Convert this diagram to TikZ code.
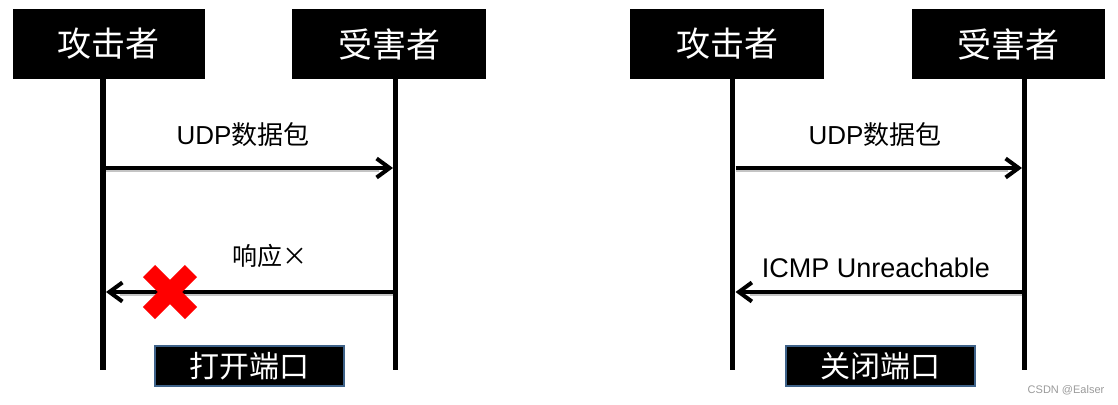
\documentclass[tikz,border=0pt]{standalone}
\usepackage{fontspec}
\setmainfont{Liberation Sans}
\newfontfamily\cjk{Noto Sans CJK SC}
\usetikzlibrary{arrows.meta}
\definecolor{borderblue}{HTML}{3E6289}
\definecolor{shadowgrey}{HTML}{C4C4C4}
\definecolor{wmgrey}{HTML}{9A9A9A}
\begin{document}
\begin{tikzpicture}[x=1pt,y=-1pt,
  head/.style={fill=black,text=white,minimum height=70pt,inner sep=0pt,font=\cjk\fontsize{34}{34}\selectfont},
  portbox/.style={fill=black,draw=borderblue,line width=2pt,text=white,minimum width=189pt,minimum height=40pt,inner sep=0pt,font=\cjk\fontsize{30}{30}\selectfont},
  life/.style={line width=5.5pt},
  msg/.style={line width=3.5pt,-{Straight Barb[length=13pt,width=19pt,line width=4pt]}},
  msgshadow/.style={line width=6pt,shadowgrey},
  lbl/.style={inner sep=0pt,font=\fontsize{26}{26}\selectfont},
  cross/.style={red,line width=17pt}
]
\useasboundingbox (0,0) rectangle (1118,404);

% ---------- left panel ----------
\node[head,minimum width=192pt] (hA1) at (108.7,44) {攻击者};
\node[head,minimum width=194pt] (hV1) at (389,44) {受害者};
\coordinate (tA1) at (103,79);  \coordinate (bA1) at (103,370);
\coordinate (tV1) at (395.5,79);\coordinate (bV1) at (395.5,370);
\draw[life] (tA1) -- (bA1);
\draw[life] (tV1) -- (bV1);

\coordinate (s1) at (106,168); \coordinate (e1) at (393,168);
\draw[msgshadow] ([yshift=-1pt]s1) -- ([yshift=-1pt,xshift=-14pt]e1);
\draw[msg] (s1) -- (e1);
\node[lbl] (l1) at (243,135) {UDP{\cjk 数据包}};

\coordinate (s2) at (393,292); \coordinate (e2) at (106,292);
\draw[msgshadow] ([yshift=-1pt]s2) -- ([yshift=-1pt,xshift=14pt]e2);
\draw[msg] (s2) -- (e2);
\node[lbl,font=\cjk\fontsize{25}{25}\selectfont] (l2) at (270,256) {响应×};
\coordinate (xc) at (170,292);
\draw[cross] ([shift={(-21,-21)}]xc) -- ([shift={(21,21)}]xc);
\draw[cross] ([shift={(-21,21)}]xc) -- ([shift={(21,-21)}]xc);

\node[portbox] (p1) at (249,366) {打开端口};

% ---------- right panel ----------
\node[head,minimum width=194pt] (hA2) at (727,44) {攻击者};
\node[head,minimum width=193pt] (hV2) at (1008.5,44) {受害者};
\coordinate (tA2) at (732.5,79);  \coordinate (bA2) at (732.5,370);
\coordinate (tV2) at (1024.5,79); \coordinate (bV2) at (1024.5,370);
\draw[life] (tA2) -- (bA2);
\draw[life] (tV2) -- (bV2);

\coordinate (s3) at (735.5,168); \coordinate (e3) at (1022,168);
\draw[msgshadow] ([yshift=-1pt]s3) -- ([yshift=-1pt,xshift=-14pt]e3);
\draw[msg] (s3) -- (e3);
\node[lbl] (l3) at (875,135) {UDP{\cjk 数据包}};

\coordinate (s4) at (1022,292); \coordinate (e4) at (735.5,292);
\draw[msgshadow] ([yshift=-1pt]s4) -- ([yshift=-1pt,xshift=14pt]e4);
\draw[msg] (s4) -- (e4);
\node[lbl,font=\fontsize{27}{27}\selectfont] (l4) at (876,268) {ICMP Unreachable};

\node[portbox] (p2) at (880,366) {关闭端口};

\node[inner sep=0pt,text=wmgrey,font=\fontsize{11}{11}\selectfont] (wm) at (1066,390) {CSDN @Ealser};
\end{tikzpicture}
\end{document}
